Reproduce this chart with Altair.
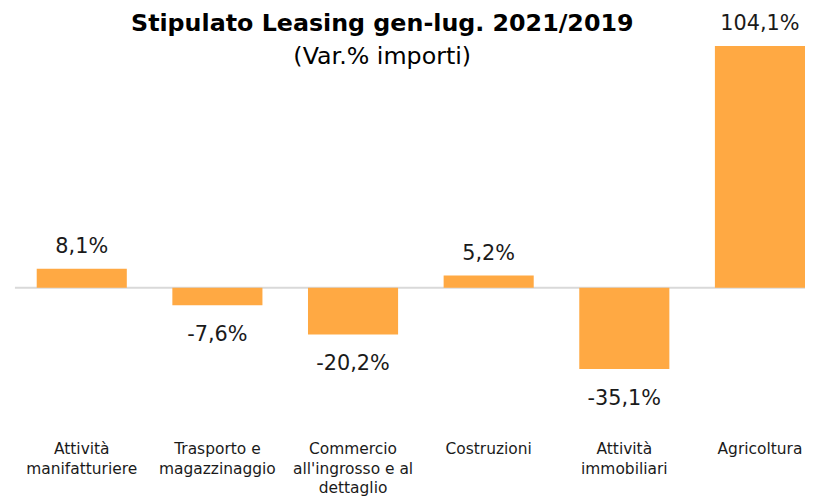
import altair as alt
import pandas as pd

categories = [
    "Attività|manifatturiere",
    "Trasporto e|magazzinaggio",
    "Commercio|all'ingrosso e al|dettaglio",
    "Costruzioni",
    "Attività|immobiliari",
    "Agricoltura",
]
values = [8.1, -7.6, -20.2, 5.2, -35.1, 104.1]
baseline = [0]
title_text = "Stipulato Leasing gen-lug. 2021/2019"
subtitle_text = "(Var.% importi)"

df = pd.DataFrame({"cat": categories, "value": values})
df_zero = pd.DataFrame({"z": baseline})

FONT = "DejaVu Sans"
ORANGE = "#FFA943"

y_scale = alt.Scale(domain=[-63.14, 89.59], nice=False)

x_enc = alt.X(
    "cat:N",
    sort=categories,
    scale=alt.Scale(paddingInner=0.3358, paddingOuter=0.0803, align=1),
    axis=alt.Axis(
        title=None,
        domain=False,
        ticks=False,
        labelAngle=0,
        labelFont=FONT,
        labelFontSize=15.6,
        labelColor="#1a1a1a",
        labelLineHeight=19.5,
        labelPadding=8,
        labelBaseline="top",
        labelOverlap=False,
        labelLimit=300,
        labelExpr="split(datum.label, '|')",
    ),
)
y_enc = alt.Y("value:Q", scale=y_scale, axis=None)

bars = alt.Chart(df).mark_bar(color=ORANGE).encode(x=x_enc, y=y_enc)

zero = (
    alt.Chart(df_zero)
    .mark_rule(color="#D9D9D9", strokeWidth=2)
    .encode(y=alt.Y("z:Q", scale=y_scale, axis=None))
)

label_expr = "replace(toString(datum.value), '.', ',') + '%'"

pos_labels = (
    alt.Chart(df)
    .transform_filter("datum.value >= 0")
    .transform_calculate(txt=label_expr)
    .mark_text(font=FONT, fontSize=21, color="#1a1a1a", baseline="middle", dy=-22)
    .encode(x=x_enc, y=y_enc, text="txt:N")
)
neg_labels = (
    alt.Chart(df)
    .transform_filter("datum.value < 0")
    .transform_calculate(txt=label_expr)
    .mark_text(font=FONT, fontSize=21, color="#1a1a1a", baseline="middle", dy=30)
    .encode(x=x_enc, y=y_enc, text="txt:N")
)

title = (
    alt.Chart(df_zero)
    .mark_text(font=FONT, fontSize=24, fontWeight="bold", color="#000000",
               align="center", baseline="middle")
    .encode(x=alt.value(371), y=alt.value(-56), text=alt.value(title_text))
)
subtitle = (
    alt.Chart(df_zero)
    .mark_text(font=FONT, fontSize=24, color="#000000",
               align="center", baseline="middle")
    .encode(x=alt.value(371), y=alt.value(-23), text=alt.value(subtitle_text))
)

chart = (
    alt.layer(zero, bars, pos_labels, neg_labels, title, subtitle)
    .properties(
        width=798,
        height=358,
        autosize=alt.AutoSizeParams(type="none"),
        padding={"left": 7, "top": 70, "right": 0, "bottom": 63},
    )
    .configure_view(stroke=None)
)

chart.save("out.html", embed_options={"renderer": "svg", "actions": False})
